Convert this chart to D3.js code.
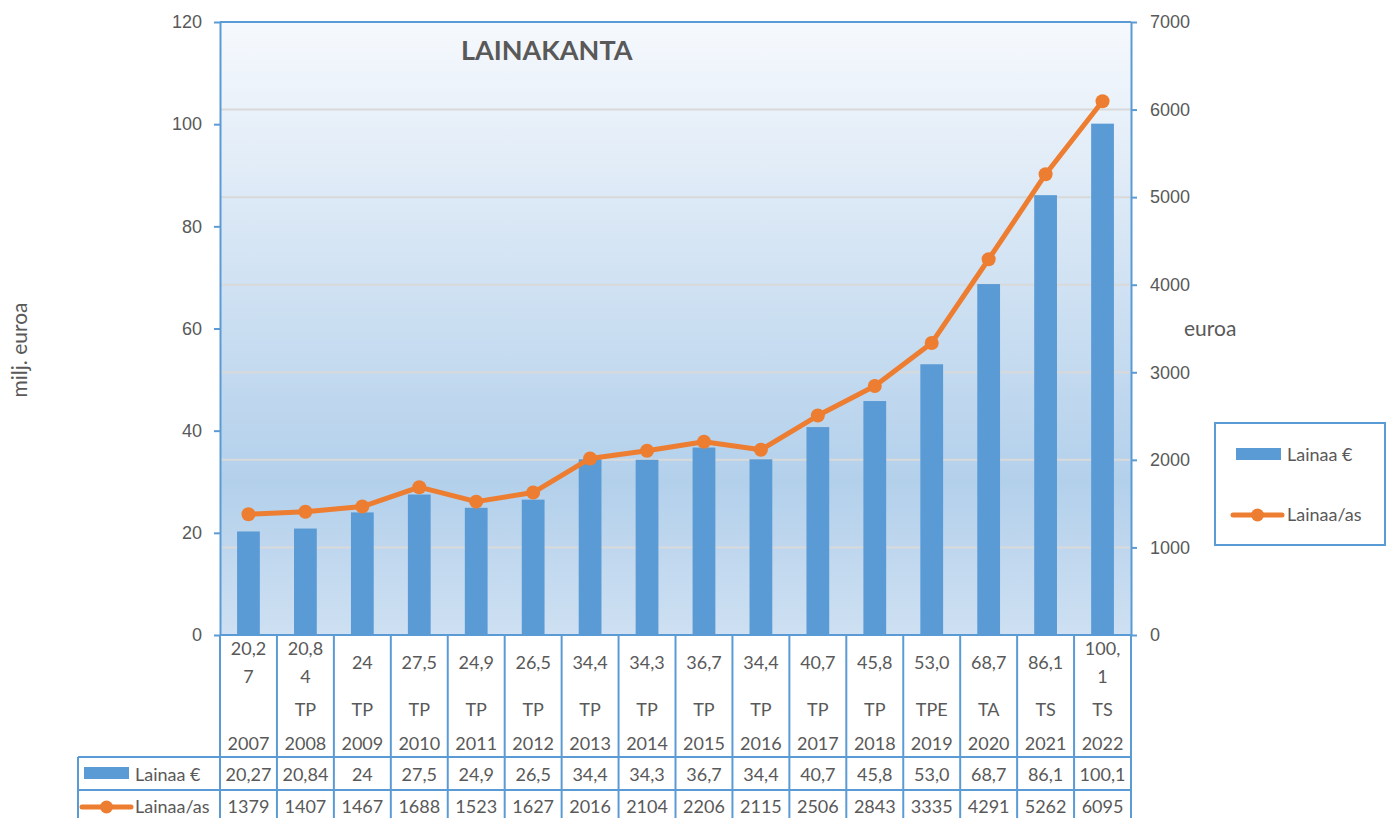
<!DOCTYPE html>
<html>
<head>
<meta charset="utf-8">
<title>Lainakanta</title>
<script src="https://cdn.jsdelivr.net/npm/d3@7.9.0/dist/d3.min.js"></script>
<style>
  body { margin: 0; background: #fff; }
  svg { display: block; font-family: Lato, 'Noto Sans', sans-serif; }
  .axis text { fill: #595959; font-size: 18px; }
  .cell { fill: #595959; font-size: 18px; }
  .title { fill: #595959; font-size: 21px; }
</style>
</head>
<body>
<div id="chart"></div>
<script>
const years = ['2007', '2008', '2009', '2010', '2011', '2012', '2013', '2014',
  '2015', '2016', '2017', '2018', '2019', '2020', '2021', '2022'];
const loans = [20.27, 20.84, 24, 27.5, 24.9, 26.5, 34.4, 34.3, 36.7, 34.4, 40.7, 45.8, 53.0, 68.7, 86.1, 100.1];
const loansText = ['20,27', '20,84', '24', '27,5', '24,9', '26,5', '34,4', '34,3',
  '36,7', '34,4', '40,7', '45,8', '53,0', '68,7', '86,1', '100,1'];
const perCapita = [1379, 1407, 1467, 1688, 1523, 1627, 2016, 2104, 2206, 2115, 2506, 2843, 3335, 4291, 5262, 6095];
const codes = ['', 'TP', 'TP', 'TP', 'TP', 'TP', 'TP', 'TP', 'TP', 'TP', 'TP', 'TP', 'TPE', 'TA', 'TS', 'TS'];
// category labels as wrapped in the narrow cells
const valueLabels = [['20,2', '7'], ['20,8', '4'], ['24'], ['27,5'], ['24,9'], ['26,5'], ['34,4'], ['34,3'],
  ['36,7'], ['34,4'], ['40,7'], ['45,8'], ['53,0'], ['68,7'], ['86,1'], ['100,', '1']];
const leftTicks = [0, 20, 40, 60, 80, 100, 120];
const rightTicks = [0, 1000, 2000, 3000, 4000, 5000, 6000, 7000];
const seriesNames = ['Lainaa €', 'Lainaa/as'];

const BLUE = '#5b9bd5', ORANGE = '#ed7d31', GREY = '#595959';
const width = 1395, height = 818;
const plot = { left: 220, right: 1131, top: 22, bottom: 635 };

const svg = d3.select('#chart').append('svg').attr('width', width).attr('height', height);

const grad = svg.append('defs').append('linearGradient')
  .attr('id', 'bg').attr('x1', 0).attr('y1', 0).attr('x2', 0).attr('y2', 1);
grad.append('stop').attr('offset', '0%').attr('stop-color', '#f6f9fd');
grad.append('stop').attr('offset', '75%').attr('stop-color', '#b3d0eb');
grad.append('stop').attr('offset', '100%').attr('stop-color', '#cee0f2');

const cellScale = d3.scaleBand().domain(years).range([plot.left, plot.right]);
const xScale = d3.scaleBand().domain(years).range([plot.left, plot.right]).paddingInner(0.6).paddingOuter(0.3);
const yLeft = d3.scaleLinear().domain([0, 120]).range([plot.bottom, plot.top]);
const yRight = d3.scaleLinear().domain([0, 7000]).range([plot.bottom, plot.top]);

svg.append('rect')
  .attr('x', plot.left).attr('y', plot.top)
  .attr('width', plot.right - plot.left).attr('height', plot.bottom - plot.top)
  .attr('fill', 'url(#bg)');

// gridlines follow the secondary axis
svg.append('g').selectAll('line')
  .data(rightTicks.filter(d => d > 0 && d < 7000)).join('line')
  .attr('x1', plot.left).attr('x2', plot.right)
  .attr('y1', d => yRight(d)).attr('y2', d => yRight(d))
  .attr('stroke', '#d9d9d9').attr('stroke-width', 2);

svg.append('g').selectAll('rect')
  .data(years).join('rect')
  .attr('x', d => xScale(d))
  .attr('y', (d, i) => yLeft(loans[i]))
  .attr('width', xScale.bandwidth())
  .attr('height', (d, i) => yLeft(0) - yLeft(loans[i]))
  .attr('fill', BLUE);

const cx = d => xScale(d) + xScale.bandwidth() / 2;
const line = d3.line().x(d => cx(d[0])).y(d => yRight(d[1]));
const pts = years.map((y, i) => [y, perCapita[i]]);

svg.append('path').datum(pts)
  .attr('d', line).attr('fill', 'none')
  .attr('stroke', ORANGE).attr('stroke-width', 5).attr('stroke-linejoin', 'round');

svg.append('g').selectAll('circle')
  .data(pts).join('circle')
  .attr('cx', d => cx(d[0])).attr('cy', d => yRight(d[1]))
  .attr('r', 7).attr('fill', ORANGE);

// axes
function styleAxis(g) {
  g.select('.domain').attr('stroke', BLUE).attr('stroke-width', 2);
  g.selectAll('.tick line').attr('stroke', BLUE).attr('stroke-width', 2);
}

svg.append('g').attr('class', 'axis')
  .attr('transform', `translate(${plot.left},0)`)
  .call(d3.axisLeft(yLeft).tickValues(leftTicks).tickSize(6).tickSizeOuter(0).tickPadding(12))
  .call(styleAxis);

svg.append('g').attr('class', 'axis')
  .attr('transform', `translate(${plot.right},0)`)
  .call(d3.axisRight(yRight).tickValues(rightTicks).tickFormat(d3.format('d'))
    .tickSize(6).tickSizeOuter(0).tickPadding(13))
  .call(styleAxis);

svg.append('line')
  .attr('x1', plot.left).attr('x2', plot.right)
  .attr('y1', plot.top).attr('y2', plot.top)
  .attr('stroke', BLUE).attr('stroke-width', 2);

// data table under the chart
const tableLeft = 78, row1 = 757, row2 = 790, tableBottom = 830;
const tbl = svg.append('g').attr('stroke', BLUE).attr('stroke-width', 2);

tbl.append('line').attr('x1', plot.left).attr('x2', plot.right)
  .attr('y1', plot.bottom).attr('y2', plot.bottom);
[row1, row2].forEach(y => {
  tbl.append('line').attr('x1', tableLeft).attr('x2', plot.right).attr('y1', y).attr('y2', y);
});
tbl.append('line').attr('x1', tableLeft).attr('x2', tableLeft).attr('y1', row1).attr('y2', tableBottom);
tbl.selectAll('.vline')
  .data(years).join('line')
  .attr('x1', d => cellScale(d)).attr('x2', d => cellScale(d))
  .attr('y1', plot.bottom).attr('y2', tableBottom);
tbl.append('line').attr('x1', plot.right).attr('x2', plot.right)
  .attr('y1', plot.bottom).attr('y2', tableBottom);

const mid = d => cellScale(d) + cellScale.bandwidth() / 2;
const cells = svg.append('g').attr('class', 'cell')
  .attr('text-anchor', 'middle').attr('dominant-baseline', 'central');

years.forEach((yr, i) => {
  const lines = valueLabels[i];
  lines.forEach((t, j) => {
    const y = lines.length === 1 ? 662 : 648 + j * 28;
    cells.append('text').attr('x', mid(yr)).attr('y', y).text(t);
  });
  cells.append('text').attr('x', mid(yr)).attr('y', 709).text(codes[i]);
  cells.append('text').attr('x', mid(yr)).attr('y', 743).text(yr);
  cells.append('text').attr('x', mid(yr)).attr('y', 774).text(loansText[i]);
  cells.append('text').attr('x', mid(yr)).attr('y', 806).text(perCapita[i]);
});

// legend keys (table rows and boxed legend)
function barKey(g, x, y) {
  g.append('rect').attr('x', x).attr('y', y - 6).attr('width', 45).attr('height', 12).attr('fill', BLUE);
}
function lineKey(g, x, y) {
  g.append('line').attr('x1', x).attr('x2', x + 49).attr('y1', y).attr('y2', y)
    .attr('stroke', ORANGE).attr('stroke-width', 5).attr('stroke-linecap', 'round');
  g.append('circle').attr('cx', x + 24.5).attr('cy', y).attr('r', 6.5).attr('fill', ORANGE);
}
function keyLabel(g, x, y, t) {
  g.append('text').attr('class', 'cell').attr('x', x).attr('y', y)
    .attr('dominant-baseline', 'central').text(t);
}

const tkeys = svg.append('g');
barKey(tkeys, 84, 773);
keyLabel(tkeys, 135, 774, seriesNames[0]);
lineKey(tkeys, 82, 807);
keyLabel(tkeys, 135, 806, seriesNames[1]);

const legend = svg.append('g');
legend.append('rect').attr('x', 1215).attr('y', 423).attr('width', 170).attr('height', 122)
  .attr('fill', '#fff').attr('stroke', BLUE).attr('stroke-width', 2);
barKey(legend, 1236, 454);
keyLabel(legend, 1287, 454, seriesNames[0]);
lineKey(legend, 1233, 515);
keyLabel(legend, 1287, 514, seriesNames[1]);

// titles
svg.append('text').attr('x', 461).attr('y', 60)
  .attr('font-size', 27).attr('font-weight', 'bold').attr('fill', GREY)
  .text('LAINAKANTA');

svg.append('text').attr('class', 'title')
  .attr('transform', 'translate(18,350) rotate(-90)')
  .attr('text-anchor', 'middle').attr('dominant-baseline', 'central')
  .text('milj. euroa');

svg.append('text').attr('class', 'title')
  .attr('x', 1184).attr('y', 336)
  .text('euroa');
</script>
</body>
</html>
